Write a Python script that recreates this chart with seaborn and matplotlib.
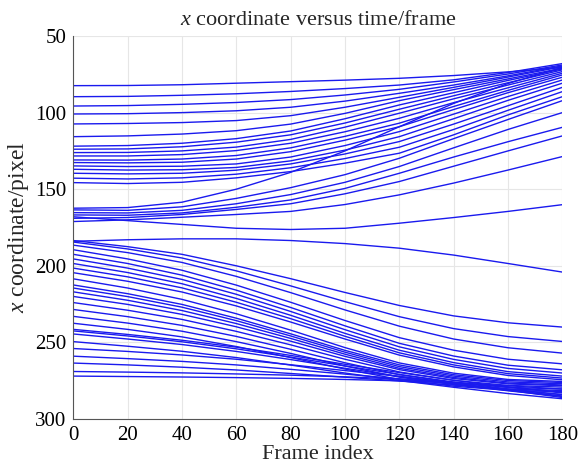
import numpy as np
import pandas as pd
import matplotlib
matplotlib.use("Agg")
import matplotlib.pyplot as plt
import seaborn as sns

frames = [0, 20, 40, 60, 80, 100, 120, 140, 160, 180]

# upper group (trajectories converging to the top-right)
T1 = [82.4, 82.3, 81.8, 80.8, 79.8, 78.8, 77.6, 75.8, 73.4, 70.5]
T2 = [89.6, 89.4, 88.7, 87.7, 86.2, 84.3, 82.0, 78.6, 73.8, 68.0]
T3 = [95.7, 95.4, 94.6, 93.4, 91.5, 88.5, 84.8, 80.0, 74.8, 68.9]
T4 = [100.9, 100.7, 100.0, 98.8, 96.5, 92.5, 87.4, 82.0, 76.0, 69.5]
T5 = [107.4, 107.1, 106.5, 105.2, 102.0, 96.5, 90.0, 83.5, 76.8, 70.0]
T6 = [115.7, 115.2, 114.0, 111.8, 107.5, 100.5, 92.2, 85.0, 78.0, 71.0]
T7 = [121.9, 121.5, 120.0, 117.0, 112.0, 104.0, 95.0, 87.0, 79.0, 71.5]
T8 = [123.9, 123.7, 122.3, 119.3, 114.5, 106.8, 97.8, 89.0, 80.5, 72.1]
T9 = [126.1, 126.0, 125.0, 122.5, 117.5, 109.5, 100.4, 91.0, 82.0, 73.2]
T10 = [128.3, 128.3, 127.4, 124.8, 120.0, 112.5, 103.7, 93.5, 83.8, 74.3]
T11 = [130.9, 131.0, 130.3, 128.0, 123.0, 115.5, 106.9, 96.0, 85.5, 75.4]
T12 = [132.6, 132.8, 132.4, 130.3, 125.5, 118.0, 109.2, 98.0, 87.0, 76.9]
T13 = [134.8, 135.2, 135.0, 133.5, 129.0, 121.5, 112.4, 101.0, 89.5, 78.7]
T14 = [137.0, 137.5, 137.3, 135.8, 131.5, 124.5, 115.7, 104.0, 92.0, 80.8]
T15 = [139.6, 140.0, 139.6, 137.6, 133.5, 127.0, 118.9, 107.5, 95.5, 83.5]
T16 = [142.8, 143.3, 142.6, 140.2, 136.0, 130.0, 122.6, 111.0, 98.5, 86.3]
T17 = [145.7, 146.3, 145.5, 142.6, 138.5, 133.0, 126.5, 114.5, 101.5, 89.6]

# middle group
M1 = [162.4, 162.0, 158.5, 150.0, 139.0, 125.0, 109.2, 94.0, 81.0, 70.5]
M2 = [163.5, 163.8, 161.5, 156.0, 149.0, 140.5, 129.8, 117.0, 104.5, 92.2]
M3 = [165.3, 165.5, 163.8, 159.5, 153.5, 145.5, 135.2, 123.0, 111.0, 100.0]
M4 = [166.8, 167.0, 165.5, 161.8, 157.0, 149.5, 139.6, 129.0, 119.0, 109.6]
M5 = [169.0, 168.5, 166.5, 163.2, 159.5, 153.0, 145.0, 135.0, 125.0, 115.2]
M6 = [171.1, 170.0, 168.3, 166.5, 164.5, 160.0, 153.7, 146.0, 137.5, 128.7]
M7 = [168.0, 170.5, 173.0, 175.5, 176.3, 175.5, 172.2, 168.5, 164.5, 160.1]
F1 = [184.0, 183.0, 182.4, 182.4, 183.5, 185.5, 188.5, 193.0, 198.5, 204.1]

# lower group (trajectories converging to the bottom-right)
L1 = [183.5, 187.5, 192.5, 200.0, 208.4, 217.4, 225.9, 232.7, 237.2, 240.0]
L2 = [184.5, 189.0, 194.9, 203.3, 213.1, 223.4, 233.2, 241.0, 246.2, 249.4]
L3 = [186.5, 191.4, 197.8, 206.9, 217.5, 228.8, 239.4, 247.8, 253.5, 257.0]
L4 = [189.5, 195.5, 202.9, 212.6, 223.8, 235.7, 246.9, 255.1, 261.0, 264.0]
L5 = [192.5, 198.5, 206.1, 215.9, 227.2, 239.2, 250.6, 258.9, 264.9, 267.9]
L6 = [195.5, 201.5, 208.9, 218.6, 229.8, 241.7, 252.9, 261.1, 267.0, 270.0]
L7 = [198.5, 204.4, 211.7, 221.3, 232.3, 244.1, 255.1, 263.2, 269.1, 272.0]
L8 = [201.5, 207.2, 214.4, 223.8, 234.5, 246.0, 256.8, 264.7, 270.4, 273.3]
L9 = [204.5, 210.1, 217.1, 226.2, 236.7, 247.8, 258.3, 266.0, 271.6, 274.4]
L10 = [208.5, 214.5, 221.9, 231.3, 242.0, 253.4, 263.4, 270.1, 274.2, 275.5]
L11 = [212.5, 218.2, 225.2, 234.2, 244.4, 255.2, 264.7, 271.1, 274.9, 276.2]
L12 = [214.5, 220.1, 227.0, 235.8, 245.8, 256.4, 265.8, 272.0, 275.8, 277.0]
L13 = [217.0, 222.5, 229.2, 237.7, 247.4, 257.7, 266.9, 272.9, 276.6, 277.8]
L14 = [220.0, 225.2, 231.7, 239.8, 249.2, 259.1, 267.8, 273.6, 277.1, 278.3]
L15 = [224.0, 229.0, 235.0, 242.8, 251.6, 261.0, 269.3, 274.8, 278.1, 279.2]
L16 = [228.5, 233.2, 238.9, 246.1, 254.5, 263.3, 271.1, 276.2, 279.4, 280.4]
L17 = [233.0, 237.4, 242.7, 249.5, 257.2, 265.4, 272.7, 277.5, 280.4, 281.4]
L18 = [237.5, 241.5, 246.4, 252.7, 259.9, 267.4, 274.2, 278.6, 281.3, 282.2]
L19 = [241.5, 244.8, 248.6, 253.1, 258.5, 264.3, 269.7, 274.7, 279.3, 283.0]
L20 = [242.5, 245.8, 249.6, 254.2, 259.6, 265.4, 270.9, 275.9, 280.4, 284.2]
L21 = [244.5, 247.8, 251.4, 255.9, 261.2, 266.9, 272.2, 277.1, 281.6, 285.3]
L22 = [249.5, 252.5, 255.8, 259.9, 264.8, 270.0, 274.9, 279.3, 283.4, 286.8]
L23 = [254.0, 255.9, 258.2, 261.0, 264.6, 268.4, 272.2, 276.4, 281.2, 286.0]
L24 = [259.0, 260.6, 262.4, 264.7, 267.6, 270.7, 273.8, 277.2, 281.1, 285.0]
L25 = [263.5, 264.7, 266.2, 268.0, 270.3, 272.7, 275.2, 277.9, 280.9, 284.0]
L26 = [269.0, 269.4, 269.9, 270.6, 271.4, 272.5, 273.9, 276.0, 279.0, 282.5]
L27 = [272.0, 272.3, 272.6, 273.0, 273.5, 274.2, 275.1, 276.4, 278.3, 280.5]

tracks = {
    "T1": T1, "T2": T2, "T3": T3, "T4": T4, "T5": T5, "T6": T6, "T7": T7,
    "T8": T8, "T9": T9, "T10": T10, "T11": T11, "T12": T12, "T13": T13,
    "T14": T14, "T15": T15, "T16": T16, "T17": T17,
    "M1": M1, "M2": M2, "M3": M3, "M4": M4, "M5": M5, "M6": M6, "M7": M7,
    "F1": F1,
    "L1": L1, "L2": L2, "L3": L3, "L4": L4, "L5": L5, "L6": L6, "L7": L7,
    "L8": L8, "L9": L9, "L10": L10, "L11": L11, "L12": L12, "L13": L13,
    "L14": L14, "L15": L15, "L16": L16, "L17": L17, "L18": L18, "L19": L19,
    "L20": L20, "L21": L21, "L22": L22, "L23": L23, "L24": L24, "L25": L25,
    "L26": L26, "L27": L27,
}

x_ticks = [0, 20, 40, 60, 80, 100, 120, 140, 160, 180]
y_ticks = [50, 100, 150, 200, 250, 300]

rows = []
for name, vals in tracks.items():
    for f, v in zip(frames, vals):
        rows.append({"track": name, "frame": f, "xcoord": v})
df = pd.DataFrame(rows)

sns.set_theme(style="whitegrid")
plt.rcParams["font.family"] = ["Liberation Serif", "DejaVu Serif"]
plt.rcParams["mathtext.fontset"] = "custom"
plt.rcParams["mathtext.it"] = "Liberation Serif:italic"
plt.rcParams["mathtext.rm"] = "Liberation Serif"

fig = plt.figure(figsize=(5.86, 4.66), dpi=100)
ax = fig.add_axes([0.125, 0.1009, 0.8346, 0.8218])

sns.lineplot(data=df, x="frame", y="xcoord", units="track", estimator=None,
             color="#1a1aee", linewidth=1.0, ax=ax, legend=False, sort=True)

ax.set_xlim(0, 180)
ax.set_ylim(300, 50)
ax.set_xticks(x_ticks)
ax.set_yticks(y_ticks)
ax.set_xticklabels([str(t) for t in x_ticks])
ax.set_yticklabels([str(t) for t in y_ticks])

ax.grid(True, color="#e6e6e6", linewidth=0.8)
for side in ["top", "right"]:
    ax.spines[side].set_visible(False)
for side in ["left", "bottom"]:
    ax.spines[side].set_visible(True)
    ax.spines[side].set_color("#555555")
    ax.spines[side].set_linewidth(0.8)
ax.tick_params(axis="both", direction="in", length=4, width=0.8, color="#555555",
               labelsize=15, labelcolor="black")
ax.tick_params(axis="x", pad=5)
ax.tick_params(axis="y", pad=5)

ax.set_title("$x$ coordinate versus time/frame", fontsize=16, pad=8)
ax.set_xlabel("Frame index", fontsize=16, labelpad=0)
ax.set_ylabel("$x$ coordinate/pixel", fontsize=17, labelpad=3)

fig.savefig("out.png", dpi=100)
